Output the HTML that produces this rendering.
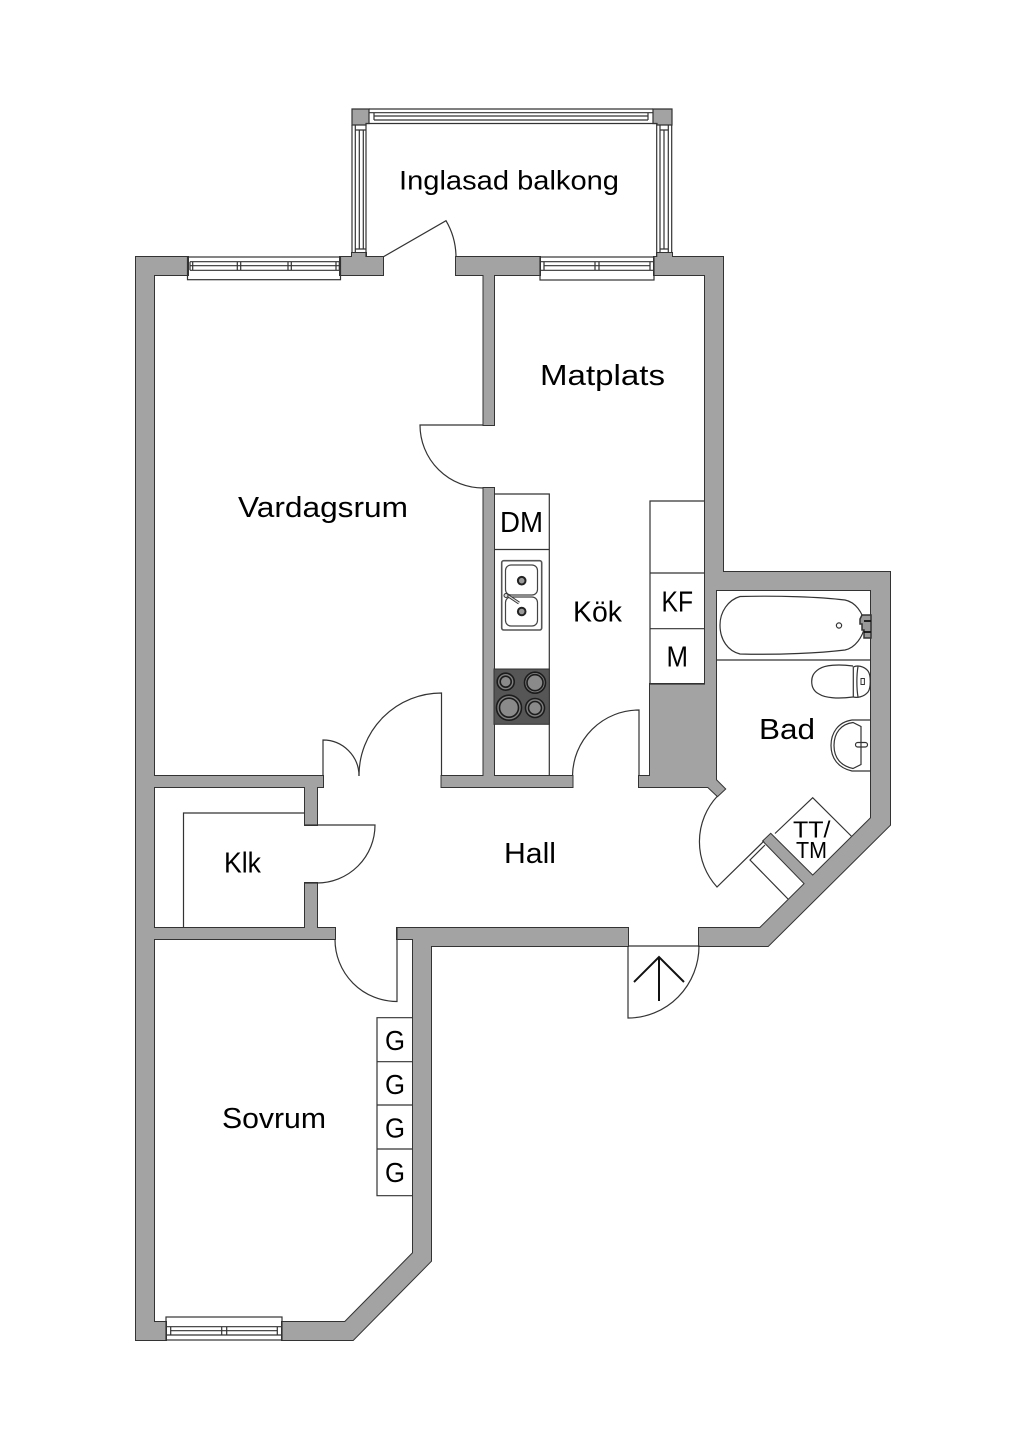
<!DOCTYPE html>
<html>
<head>
<meta charset="utf-8">
<style>
html,body{margin:0;padding:0;background:#fff;}
svg{display:block;}
text{font-family:"Liberation Sans",sans-serif;fill:#000;}
</style>
</head>
<body>
<svg width="1024" height="1448" viewBox="0 0 1024 1448" xmlns="http://www.w3.org/2000/svg">
<rect width="1024" height="1448" fill="#fff"/>
<defs>
<g id="walls">
  <rect x="136" y="257" width="18" height="1083"/>
  <rect x="136" y="257" width="52" height="18"/>
  <rect x="340" y="257" width="43" height="18"/>
  <rect x="352" y="253" width="14" height="6"/>
  <rect x="456" y="257" width="84" height="18"/>
  <rect x="654" y="257" width="69" height="18"/>
  <rect x="657" y="253" width="15" height="6"/>
  <rect x="483.5" y="270" width="10.5" height="155"/>
  <rect x="483.5" y="488" width="10.5" height="295"/>
  <rect x="441.5" y="776" width="131" height="11"/>
  <polygon points="639,776 650,776 650,684 705,684 705,257 723,257 723,572 890,572 890,825 768,946 699,946 699,928 760,928 871,818 871,590 716,590 716,780 725,789 717.5,796 708,787 639,787"/>
  <polygon points="770.7,834 816,879 808,887 763.3,841"/>
  <rect x="150" y="776" width="173" height="11"/>
  <rect x="305" y="783" width="12" height="42"/>
  <rect x="305" y="883" width="12" height="50"/>
  <rect x="150" y="928" width="185" height="11"/>
  <polygon points="397,928 628,928 628,946 431,946 431,1261 353,1340 282,1340 282,1322 345,1322 413,1253 413,939 397,939"/>
  <rect x="136" y="1322" width="30" height="18"/>
</g>
</defs>
<use href="#walls" fill="#333" stroke="#333" stroke-width="2"/>
<use href="#walls" fill="#a3a3a3"/>

<g fill="none" stroke="#333" stroke-width="1.2">
  <!-- balcony top window -->
  <path d="M369 109H653M369 112.7H653M374 116H648M374 120H648M366 123.5H657M374 112.7V120M648 112.7V120"/>
  <!-- balcony left window -->
  <path d="M352 125V253M355.3 125V253M359.3 130V249M363.3 130V249M366 123.5V257M355.3 130H366M355.3 249H366"/>
  <!-- balcony right window -->
  <path d="M656.7 123.5V257M660 125V253M664 130V249M668.3 125V253M671.7 125V253M660 130H668.3M660 249H668.3"/>
  <!-- balcony corners -->
  <polygon points="352,109 369,109 369,123.5 366,123.5 366,125 352,125" fill="#a3a3a3"/>
  <polygon points="653,109 672,109 672,125 657,125 657,123.5 653,123.5" fill="#a3a3a3"/>
  <!-- window living -->
  <rect x="187.5" y="257" width="153" height="22.7"/>
  <path d="M190 261.7H339M190 265.7H339M190 270.3H339M190 261.7V270.3M192.7 261.7V270.3M237.3 261.7V270.3M240.7 261.7V270.3M288 261.7V270.3M291.3 261.7V270.3M336 261.7V270.3M339.3 261.7V270.3"/>
  <!-- window kitchen -->
  <rect x="540" y="257" width="114" height="23"/>
  <path d="M540 261.7H654M544 265.7H650M540 270.3H654M544 261.7V270.3M595 261.7V270.3M599 261.7V270.3M650 261.7V270.3"/>
  <!-- window bedroom -->
  <rect x="166" y="1317" width="116" height="23"/>
  <path d="M166 1326.7H282M171 1330.7H277M166 1335H282M170.7 1326.7V1335M221.7 1326.7V1335M226.7 1326.7V1335M277.3 1326.7V1335"/>

  <!-- doors -->
  <path d="M383 257L446 220.7A73 73 0 0 1 456 257"/>
  <path d="M483.5 425H420A63 63 0 0 0 483.5 488"/>
  <path d="M323 776V740A36 36 0 0 1 359 776"/>
  <path d="M441.5 776V693A82.5 82.5 0 0 0 359 776"/>
  <path d="M305 825H375A58 58 0 0 1 317 883H305"/>
  <path d="M397 928V1001.5A62 62 0 0 1 335 939"/>
  <path d="M639 776V710A66.5 66.5 0 0 0 572.5 776"/>
  <path d="M628 946H699A71 72 0 0 1 628 1018V946"/>
  <path d="M717.5 796A67 67 0 0 0 717 887L764 841"/>

  <!-- closet line -->
  <path d="M305 813H183.5V928"/>

  <!-- TT/TM cabinet -->
  <path d="M775 833.5L812.7 797.7L851.7 836.5"/>
  <path d="M765 845L750 860L788 899"/>

  <!-- kitchen units -->
  <path d="M494 494H549.3V776M494 549.5H549.3"/>
  <path d="M705 501H650V684H705M650 573H705M650 628.7H705"/>

  <!-- wardrobes -->
  <path d="M413 1017.7H377V1195.7H413M377 1061.7H413M377 1105H413M377 1149H413"/>

  <!-- bath -->
  <path d="M716 660H871"/>
  <path d="M740 596.5C780 595.5 820 597 845 600C855 602 863 612 865 625C863 637 855 648 845 650C820 653 780 655 740 654C728 651 720 640 720 625C720 612 728 600 740 596.5Z"/>
  <circle cx="839" cy="625.5" r="2.6"/>
  <path d="M862 615H871V638H864V630H862V624H860V619Z" fill="#999" stroke-width="1.5"/>
  <path d="M864 621H871M864 632H871" stroke="#111" stroke-width="1.8"/>

  <!-- toilet -->
  <path d="M853 666C838 664 825 665 819 669C813 673 811.7 677 811.7 681.5C811.7 686 813 691 819 694C825 698 838 699 853 697"/>
  <path d="M853.3 667V697C857 698 864 697 868 692C871 688 871 675 868 671C864 666 857 665 853.3 667Z"/>
  <path d="M858 666.5C856.5 675 856.5 688 858 697"/>
  <rect x="861" y="678.5" width="3.4" height="6" stroke-width="1"/>

  <!-- basin -->
  <path d="M871 720H852C838 722 831 733 831 745.5C831 758 838 768 852 771H871"/>
  <path d="M853 722.5C841 724 834 733 834 745.5C834 758 841 766 853 768.5L861 764.5V726.5Z"/>
  <rect x="855.5" y="742.5" width="12" height="4.5" rx="2.2"/>

  <!-- sink -->
  <rect x="501.7" y="560.7" width="40" height="69.3" rx="2" stroke="#555" stroke-width="1.6"/>
  <rect x="505.5" y="565" width="32" height="30" rx="5.5" stroke="#444"/>
  <rect x="505.5" y="597" width="32" height="29" rx="5.5" stroke="#444"/>
</g>
<g>
  <circle cx="521.7" cy="580.7" r="3.8" fill="#9a9a9a" stroke="#222" stroke-width="2"/>
  <circle cx="521.7" cy="611.5" r="3.8" fill="#9a9a9a" stroke="#222" stroke-width="2"/>
  <path d="M507 595L519 603" stroke="#333" stroke-width="3" fill="none"/>
  <path d="M507 595L519 603" stroke="#ddd" stroke-width="1.2" fill="none"/>
  <circle cx="506" cy="595.5" r="2" fill="#ddd" stroke="#333" stroke-width="1"/>
  <!-- cooktop -->
  <rect x="494" y="669" width="55.3" height="55.3" fill="#565656" stroke="#333" stroke-width="1"/>
  <g stroke="#1c1c1c" stroke-width="1.6" fill="#7f7f7f">
    <circle cx="505.7" cy="681.7" r="8.5"/><circle cx="505.7" cy="681.7" r="5.5" fill="#8a8a8a"/>
    <circle cx="535" cy="682.7" r="10.5"/><circle cx="535" cy="682.7" r="8" fill="#8a8a8a"/>
    <circle cx="509" cy="707.7" r="12.5"/><circle cx="509" cy="707.7" r="9.5" fill="#8a8a8a"/>
    <circle cx="535" cy="708" r="9.5"/><circle cx="535" cy="708" r="6.5" fill="#8a8a8a"/>
  </g>
</g>
<!-- arrow -->
<path d="M659 1001V957M634 982L659 957L684 982" fill="none" stroke="#111" stroke-width="2"/>
<g>
<text x="399" y="189.5" font-size="26.5" textLength="220" lengthAdjust="spacingAndGlyphs">Inglasad balkong</text>
<text x="540" y="385" font-size="29" textLength="125" lengthAdjust="spacingAndGlyphs">Matplats</text>
<text x="238" y="517" font-size="29" textLength="170" lengthAdjust="spacingAndGlyphs">Vardagsrum</text>
<text x="573" y="621.7" font-size="29" textLength="49" lengthAdjust="spacingAndGlyphs">Kök</text>
<text x="759" y="739" font-size="29" textLength="56" lengthAdjust="spacingAndGlyphs">Bad</text>
<text x="504" y="863" font-size="29" textLength="52" lengthAdjust="spacingAndGlyphs">Hall</text>
<text x="224" y="872.7" font-size="29" textLength="37" lengthAdjust="spacingAndGlyphs">Klk</text>
<text x="222" y="1128" font-size="29" textLength="104" lengthAdjust="spacingAndGlyphs">Sovrum</text>
<text x="500" y="532" font-size="28.5" textLength="43" lengthAdjust="spacingAndGlyphs">DM</text>
<text x="661.5" y="611.7" font-size="28.5" textLength="31.5" lengthAdjust="spacingAndGlyphs">KF</text>
<text x="666.5" y="666.7" font-size="28.5" textLength="21.5" lengthAdjust="spacingAndGlyphs">M</text>
<text x="793" y="837.7" font-size="23.5" textLength="37.5" lengthAdjust="spacingAndGlyphs">TT/</text>
<text x="796" y="858" font-size="23.5" textLength="31" lengthAdjust="spacingAndGlyphs">TM</text>
<text x="385" y="1050" font-size="27.5" textLength="20" lengthAdjust="spacingAndGlyphs">G</text>
<text x="385" y="1094" font-size="27.5" textLength="20" lengthAdjust="spacingAndGlyphs">G</text>
<text x="385" y="1137.5" font-size="27.5" textLength="20" lengthAdjust="spacingAndGlyphs">G</text>
<text x="385" y="1182" font-size="27.5" textLength="20" lengthAdjust="spacingAndGlyphs">G</text>
</g>
</svg>
</body>
</html>
